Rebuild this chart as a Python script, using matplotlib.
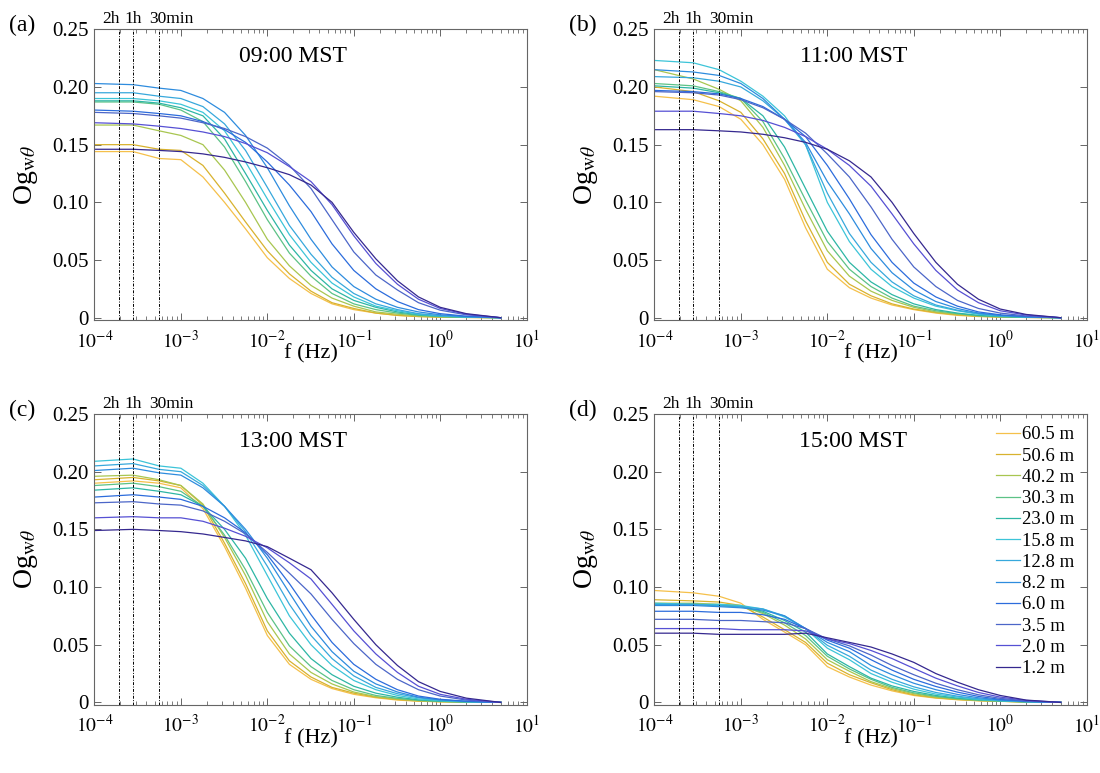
import matplotlib
matplotlib.use("Agg")
import matplotlib.pyplot as plt
import matplotlib.transforms as mtransforms
from matplotlib.ticker import LogLocator, NullFormatter
import numpy as np

plt.rcParams['font.family'] = ['Liberation Serif', 'DejaVu Serif']
plt.rcParams['mathtext.fontset'] = 'stix'

freq = [1e-4, 2.8e-4, 5.6e-4, 1e-3, 1.8e-3, 3.2e-3, 5.6e-3, 1e-2, 1.8e-2,
        3.2e-2, 5.6e-2, 0.1, 0.18, 0.32, 0.56, 1.0, 2.0, 5.0]

heights = ['60.5 m', '50.6 m', '40.2 m', '30.3 m', '23.0 m', '15.8 m',
           '12.8 m', '8.2 m', '6.0 m', '3.5 m', '2.0 m', '1.2 m']
colors = ['#F5C04A', '#D8B22E', '#A8C650', '#5CC286', '#2DB6A4', '#3CC4D8',
          '#37A8DC', '#2E8CDE', '#2C6CDC', '#4C66C8', '#5650D4', '#35288F']

times = ['09:00 MST', '11:00 MST', '13:00 MST', '15:00 MST']
panel_labels = ['(a)', '(b)', '(c)', '(d)']

period_freq = [1.94e-4, 2.78e-4, 5.56e-4]
period_labels = ['2h', '1h', '30min']
period_label_x = [1.56e-4, 2.79e-4, 7.8e-4]

ogive_0900 = [
    [0.144, 0.144, 0.138, 0.137, 0.122, 0.100, 0.077, 0.052, 0.034, 0.021, 0.012, 0.007, 0.004, 0.002, 0.001, 0.0005, 0.0002, 0],
    [0.150, 0.150, 0.146, 0.145, 0.132, 0.108, 0.083, 0.058, 0.038, 0.023, 0.013, 0.008, 0.004, 0.002, 0.001, 0.0005, 0.0002, 0],
    [0.167, 0.167, 0.162, 0.158, 0.150, 0.128, 0.100, 0.068, 0.045, 0.028, 0.017, 0.010, 0.005, 0.003, 0.0015, 0.0007, 0.0003, 0],
    [0.187, 0.187, 0.185, 0.180, 0.170, 0.148, 0.118, 0.085, 0.056, 0.036, 0.021, 0.012, 0.007, 0.004, 0.002, 0.001, 0.0004, 0],
    [0.188, 0.188, 0.186, 0.182, 0.175, 0.155, 0.125, 0.093, 0.063, 0.041, 0.025, 0.015, 0.009, 0.005, 0.0025, 0.0012, 0.0005, 0],
    [0.190, 0.190, 0.188, 0.185, 0.178, 0.162, 0.135, 0.103, 0.072, 0.048, 0.030, 0.018, 0.010, 0.006, 0.003, 0.0015, 0.0006, 0],
    [0.195, 0.195, 0.192, 0.190, 0.183, 0.168, 0.145, 0.113, 0.080, 0.055, 0.035, 0.021, 0.012, 0.007, 0.0035, 0.0018, 0.0007, 0],
    [0.203, 0.202, 0.199, 0.197, 0.190, 0.178, 0.158, 0.130, 0.097, 0.068, 0.044, 0.027, 0.016, 0.009, 0.005, 0.0025, 0.001, 0],
    [0.180, 0.179, 0.177, 0.175, 0.170, 0.163, 0.152, 0.135, 0.115, 0.092, 0.064, 0.041, 0.025, 0.014, 0.007, 0.0035, 0.0013, 0],
    [0.178, 0.177, 0.175, 0.173, 0.169, 0.164, 0.157, 0.147, 0.132, 0.112, 0.085, 0.057, 0.037, 0.024, 0.013, 0.0065, 0.0025, 0],
    [0.169, 0.168, 0.166, 0.164, 0.161, 0.157, 0.151, 0.143, 0.131, 0.118, 0.098, 0.071, 0.047, 0.029, 0.016, 0.008, 0.003, 0],
    [0.146, 0.146, 0.145, 0.144, 0.142, 0.139, 0.135, 0.130, 0.124, 0.115, 0.100, 0.074, 0.051, 0.032, 0.018, 0.009, 0.0035, 0],
]

ogive_1100 = [
    [0.192, 0.189, 0.183, 0.172, 0.150, 0.120, 0.078, 0.042, 0.026, 0.017, 0.011, 0.007, 0.004, 0.002, 0.001, 0.0005, 0.0002, 0],
    [0.200, 0.196, 0.188, 0.178, 0.155, 0.125, 0.084, 0.048, 0.029, 0.019, 0.012, 0.0075, 0.0045, 0.0025, 0.0012, 0.0006, 0.0002, 0],
    [0.215, 0.207, 0.198, 0.188, 0.165, 0.132, 0.094, 0.058, 0.036, 0.023, 0.015, 0.009, 0.005, 0.003, 0.0015, 0.0007, 0.0003, 0],
    [0.203, 0.201, 0.196, 0.190, 0.170, 0.138, 0.102, 0.066, 0.042, 0.027, 0.017, 0.010, 0.006, 0.0035, 0.0018, 0.0009, 0.0003, 0],
    [0.201, 0.199, 0.195, 0.190, 0.175, 0.148, 0.112, 0.075, 0.048, 0.031, 0.020, 0.012, 0.007, 0.004, 0.002, 0.001, 0.0004, 0],
    [0.223, 0.221, 0.215, 0.205, 0.192, 0.175, 0.150, 0.100, 0.066, 0.042, 0.027, 0.017, 0.010, 0.006, 0.003, 0.0015, 0.0006, 0],
    [0.209, 0.208, 0.205, 0.200, 0.188, 0.172, 0.150, 0.108, 0.073, 0.048, 0.031, 0.019, 0.011, 0.0065, 0.0035, 0.0017, 0.0007, 0],
    [0.215, 0.213, 0.210, 0.203, 0.190, 0.172, 0.152, 0.118, 0.090, 0.060, 0.039, 0.024, 0.014, 0.008, 0.004, 0.002, 0.0008, 0],
    [0.197, 0.196, 0.194, 0.190, 0.183, 0.172, 0.157, 0.132, 0.103, 0.072, 0.048, 0.030, 0.018, 0.010, 0.005, 0.0025, 0.001, 0],
    [0.196, 0.195, 0.193, 0.189, 0.182, 0.172, 0.160, 0.142, 0.122, 0.096, 0.068, 0.044, 0.027, 0.015, 0.008, 0.004, 0.0015, 0],
    [0.179, 0.179, 0.177, 0.175, 0.171, 0.165, 0.157, 0.146, 0.132, 0.114, 0.090, 0.064, 0.041, 0.024, 0.013, 0.006, 0.0023, 0],
    [0.163, 0.163, 0.162, 0.161, 0.159, 0.156, 0.152, 0.146, 0.136, 0.122, 0.100, 0.073, 0.048, 0.029, 0.016, 0.0075, 0.0028, 0],
]

ogive_1300 = [
    [0.190, 0.192, 0.190, 0.186, 0.168, 0.135, 0.099, 0.058, 0.033, 0.020, 0.012, 0.007, 0.004, 0.002, 0.001, 0.0005, 0.0002, 0],
    [0.193, 0.195, 0.192, 0.188, 0.171, 0.138, 0.103, 0.062, 0.036, 0.022, 0.013, 0.008, 0.0045, 0.0025, 0.0012, 0.0006, 0.0002, 0],
    [0.196, 0.197, 0.193, 0.188, 0.172, 0.143, 0.110, 0.070, 0.042, 0.026, 0.016, 0.009, 0.005, 0.003, 0.0015, 0.0007, 0.0003, 0],
    [0.188, 0.190, 0.187, 0.183, 0.170, 0.145, 0.115, 0.078, 0.049, 0.031, 0.019, 0.011, 0.006, 0.0035, 0.0018, 0.0009, 0.0003, 0],
    [0.184, 0.186, 0.183, 0.180, 0.170, 0.150, 0.125, 0.090, 0.060, 0.038, 0.024, 0.014, 0.008, 0.0045, 0.0022, 0.001, 0.0004, 0],
    [0.209, 0.211, 0.205, 0.203, 0.190, 0.170, 0.145, 0.110, 0.075, 0.050, 0.032, 0.019, 0.011, 0.006, 0.003, 0.0015, 0.0006, 0],
    [0.205, 0.207, 0.202, 0.200, 0.188, 0.170, 0.148, 0.118, 0.085, 0.058, 0.038, 0.023, 0.013, 0.0075, 0.004, 0.002, 0.0008, 0],
    [0.201, 0.203, 0.199, 0.197, 0.186, 0.170, 0.150, 0.125, 0.095, 0.066, 0.044, 0.027, 0.016, 0.009, 0.0045, 0.0022, 0.0009, 0],
    [0.178, 0.180, 0.178, 0.176, 0.170, 0.160, 0.147, 0.128, 0.103, 0.076, 0.052, 0.033, 0.020, 0.011, 0.0055, 0.0027, 0.001, 0],
    [0.173, 0.174, 0.172, 0.171, 0.166, 0.157, 0.146, 0.130, 0.112, 0.094, 0.072, 0.051, 0.033, 0.020, 0.011, 0.0055, 0.002, 0],
    [0.160, 0.161, 0.160, 0.160, 0.157, 0.151, 0.144, 0.134, 0.121, 0.107, 0.085, 0.062, 0.042, 0.026, 0.014, 0.007, 0.0027, 0],
    [0.149, 0.150, 0.149, 0.148, 0.146, 0.143, 0.140, 0.135, 0.125, 0.115, 0.095, 0.072, 0.050, 0.032, 0.018, 0.0095, 0.0037, 0],
]

ogive_1500 = [
    [0.097, 0.095, 0.092, 0.086, 0.072, 0.061, 0.050, 0.031, 0.022, 0.015, 0.010, 0.006, 0.0037, 0.0023, 0.0014, 0.0009, 0.0003, 0],
    [0.089, 0.088, 0.087, 0.084, 0.074, 0.063, 0.052, 0.034, 0.024, 0.017, 0.011, 0.0066, 0.004, 0.0025, 0.0015, 0.001, 0.0003, 0],
    [0.086, 0.086, 0.085, 0.084, 0.077, 0.067, 0.055, 0.037, 0.027, 0.018, 0.012, 0.0075, 0.0046, 0.0028, 0.0017, 0.001, 0.0004, 0],
    [0.085, 0.085, 0.084, 0.083, 0.078, 0.069, 0.058, 0.040, 0.029, 0.020, 0.013, 0.0083, 0.0052, 0.0032, 0.0019, 0.0011, 0.0004, 0],
    [0.085, 0.085, 0.084, 0.083, 0.079, 0.071, 0.061, 0.042, 0.031, 0.021, 0.0143, 0.0095, 0.006, 0.0037, 0.0023, 0.0013, 0.0005, 0],
    [0.086, 0.085, 0.085, 0.084, 0.081, 0.074, 0.064, 0.047, 0.037, 0.025, 0.0175, 0.0115, 0.0072, 0.0046, 0.0026, 0.0015, 0.0006, 0],
    [0.085, 0.085, 0.084, 0.083, 0.081, 0.075, 0.064, 0.0495, 0.040, 0.028, 0.020, 0.0135, 0.0086, 0.0054, 0.0031, 0.0017, 0.0007, 0],
    [0.084, 0.084, 0.083, 0.082, 0.080, 0.075, 0.064, 0.052, 0.044, 0.032, 0.024, 0.0166, 0.011, 0.0069, 0.004, 0.002, 0.0008, 0],
    [0.079, 0.079, 0.078, 0.078, 0.076, 0.072, 0.064, 0.054, 0.047, 0.037, 0.028, 0.020, 0.0138, 0.0089, 0.0052, 0.0026, 0.001, 0],
    [0.072, 0.072, 0.071, 0.071, 0.070, 0.069, 0.064, 0.055, 0.049, 0.041, 0.032, 0.024, 0.0166, 0.011, 0.0066, 0.0035, 0.0013, 0],
    [0.064, 0.064, 0.064, 0.063, 0.063, 0.063, 0.062, 0.055, 0.051, 0.045, 0.038, 0.0295, 0.021, 0.0143, 0.0086, 0.0046, 0.0017, 0],
    [0.060, 0.060, 0.059, 0.059, 0.059, 0.059, 0.060, 0.056, 0.052, 0.048, 0.042, 0.0347, 0.025, 0.0175, 0.011, 0.006, 0.002, 0],
]

ogives = [ogive_0900, ogive_1100, ogive_1300, ogive_1500]

fig = plt.figure(figsize=(11, 7.73), dpi=100)
W, H = 1100, 773
# axes boxes in pixels: left, top
boxes = [(94.4, 29.3), (654.4, 29.3), (94.4, 414), (654.4, 414)]
aw, ah = 432.3, 290.7
label_pos = [(9, 25), (569, 25), (9, 410), (569, 410)]

spine_col = '#666666'

for k in range(4):
    left, top = boxes[k]
    ax = fig.add_axes([left / W, 1 - (top + ah) / H, aw / W, ah / H])
    for i, h in enumerate(heights):
        ax.plot(freq, ogives[k][i], color=colors[i], lw=0.9, label=h)

    ax.set_xscale('log')
    ax.set_xlim(1e-4, 10)
    ax.set_ylim(-0.002, 0.25)

    for pf in period_freq:
        ax.axvline(pf, color='black', lw=0.7, ls=(0, (3, 1.5, 1, 1.5)))
    trans = mtransforms.blended_transform_factory(ax.transData, ax.transAxes)
    for lx, lab in zip(period_label_x, period_labels):
        ax.text(lx, 1.008, lab, transform=trans, ha='center', va='bottom', fontsize=12.5)

    ax.text(0.46, 0.905, times[k], transform=ax.transAxes, ha='center', va='center', fontsize=17)

    ax.set_yticks([0, 0.05, 0.10, 0.15, 0.20, 0.25])
    ax.set_yticklabels(['0', '0.05', '0.10', '0.15', '0.20', '0.25'])
    ax.set_xticks([1e-4, 1e-3, 1e-2, 1e-1, 1e0, 1e1])
    ax.set_xticklabels([r'$10^{-4}$', r'$10^{-3}$', r'$10^{-2}$', r'$10^{-1}$', r'$10^{0}$', r'$10^{1}$'])
    ax.xaxis.set_minor_locator(LogLocator(base=10, subs=np.arange(2, 10), numticks=20))
    ax.xaxis.set_minor_formatter(NullFormatter())
    ax.tick_params(which='both', direction='in', top=True, right=True, colors=spine_col,
                   labelcolor='black', labelsize=15)
    ax.tick_params(which='major', length=5, width=0.7)
    ax.tick_params(which='minor', length=3, width=0.6)
    ax.tick_params(axis='x', pad=7, labelsize=14)
    ax.tick_params(axis='y', pad=4)
    for sp in ax.spines.values():
        sp.set_color(spine_col)
        sp.set_linewidth(0.8)

    ax.set_xlabel('f (Hz)', fontsize=16)
    ax.xaxis.set_label_coords(0.5, -0.083)
    ax.set_ylabel(r'Og$_{\mathrm{w}\theta}$', fontsize=20)
    ax.yaxis.set_label_coords(-0.125, 0.5)

    fx, fy = label_pos[k]
    fig.text(fx / W, 1 - fy / H, panel_labels[k], ha='left', va='center', fontsize=17)

    if k == 3:
        ax.legend(loc='upper right', frameon=False, fontsize=13.5, handlelength=1.3,
                  handletextpad=0.1, labelspacing=0.22, borderaxespad=0.25)

fig.savefig('out.png', dpi=100)
